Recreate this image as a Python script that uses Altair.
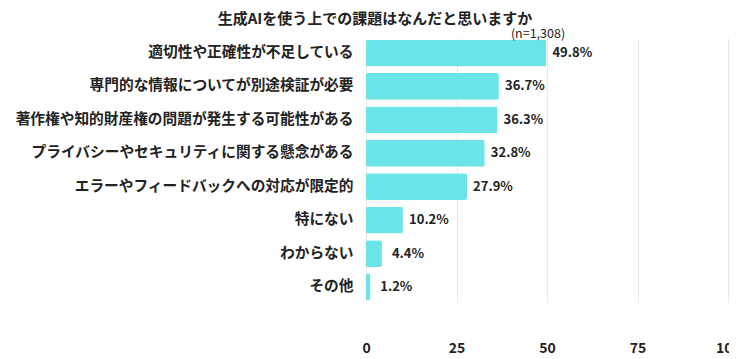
import altair as alt
import pandas as pd

categories = [
    "適切性や正確性が不足している",
    "専門的な情報についてが別途検証が必要",
    "著作権や知的財産権の問題が発生する可能性がある",
    "プライバシーやセキュリティに関する懸念がある",
    "エラーやフィードバックへの対応が限定的",
    "特にない",
    "わからない",
    "その他",
]
values = [49.8, 36.7, 36.3, 32.8, 27.9, 10.2, 4.4, 1.2]
x_ticks = [0, 25, 50, 75, 100]
title_text = "生成AIを使う上での課題はなんだと思いますか"
n_text = "(n=1,308)"

FONT = "Noto Sans CJK JP"
df = pd.DataFrame({"cat": categories, "val": values})

y = alt.Y("cat:N", sort=categories, title=None,
          scale=alt.Scale(paddingInner=0.2, paddingOuter=0.05),
          axis=alt.Axis(labelFontSize=14.7, labelFontWeight="bold", labelColor="#222",
                        labelPadding=13, ticks=False, domain=False, labelLimit=400,
                        labelFont=FONT))
x = alt.X("val:Q", title=None,
          scale=alt.Scale(domain=[0, 100], nice=False),
          axis=alt.Axis(values=x_ticks, grid=True, gridColor="#e8e8e8", domain=False,
                        ticks=False, labelFontSize=14, labelFontWeight="bold",
                        labelColor="#222", offset=37, labelPadding=2, labelFont=FONT,
                        labelFlush=False))

bars = alt.Chart(df).mark_bar(color="#6ae4e9", cornerRadius=2).encode(x=x, y=y)

labels = alt.Chart(df).transform_calculate(
    lab="format(datum.val, '.1f') + '%'"
).mark_text(align="center", dx=26, fontSize=13, fontWeight="bold", color="#222", font=FONT).encode(
    x="val:Q", y=alt.Y("cat:N", sort=categories), text="lab:N"
)

nlab = alt.Chart(pd.DataFrame({"t": [n_text]})).mark_text(
    align="center", baseline="middle", fontSize=12.5, color="#222", font=FONT
).encode(x=alt.value(172), y=alt.value(-4), text="t:N")

ttl = alt.Chart(pd.DataFrame({"t": [title_text]})).mark_text(
    align="center", baseline="middle", fontSize=15, fontWeight="bold", color="#222", font=FONT
).encode(x=alt.value(9), y=alt.value(-19.5), text="t:N")

chart = alt.layer(bars, labels, nlab, ttl).properties(
    width=362, height=264,
    autosize=alt.AutoSizeParams(type="none"),
    padding={"left": 358, "top": 30, "right": 1, "bottom": 55},
).configure_view(stroke=None)

chart.save("out.html", embed_options={"renderer": "svg", "actions": False})
